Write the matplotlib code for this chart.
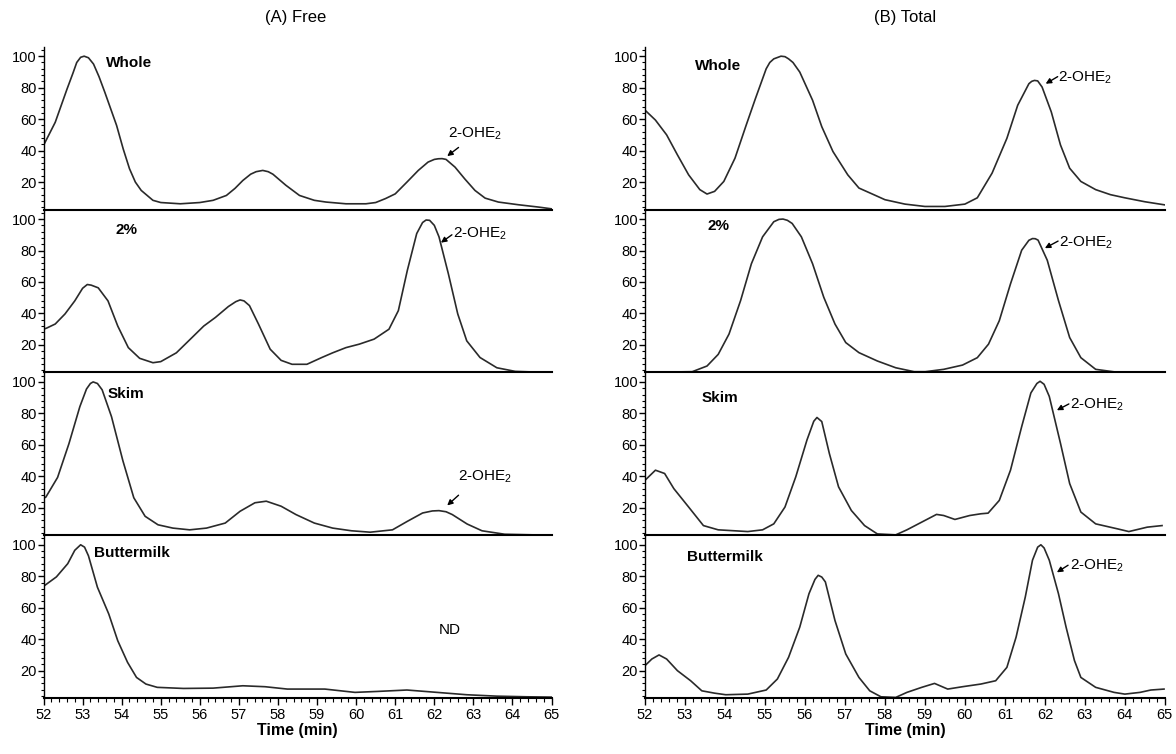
import numpy as np
from matplotlib import pyplot as plt
from matplotlib.ticker import MultipleLocator

plt.rcParams['font.family'] = ['Liberation Sans', 'DejaVu Sans']
plt.rcParams['mathtext.default'] = 'regular'

# ---- (A) Free ----
a_whole_x = [52.0, 52.3, 52.6, 52.75, 52.85, 52.95, 53.04, 53.15, 53.28, 53.42, 53.57, 53.87, 54.04, 54.2,
             54.35, 54.5, 54.8, 55.0, 55.5, 56.0, 56.34, 56.68, 56.9, 57.1, 57.3, 57.44, 57.61, 57.75,
             57.87, 58.2, 58.55, 58.93, 59.23, 59.74, 60.25, 60.5, 60.75, 61.0, 61.3, 61.59, 61.84,
             62.0, 62.1, 62.2, 62.3, 62.53, 62.78, 63.04, 63.3, 63.64, 64.15, 64.67, 65.0]
a_whole_y = [43.3, 58, 79, 89, 96, 99.3, 100, 99, 95, 87, 77, 56, 41, 28.5,
             20, 14.7, 8.4, 7, 6.2, 7, 8.4, 11.5, 16, 21, 25, 26.6, 27.4, 26.6,
             25, 18, 11.5, 8.4, 7.3, 6.2, 6.2, 7, 9.5, 12.5, 20, 27.4, 32.7,
             34.4, 34.8, 34.9, 34.4, 29.5, 22, 14.7, 9.8, 7.3, 5.6, 4.1, 3]

a_2pc_x = [52.0, 52.08, 52.3, 52.55, 52.8, 53.0, 53.12, 53.22, 53.4, 53.65, 53.9, 54.17, 54.46, 54.8, 55.0,
           55.4, 55.8, 56.1, 56.4, 56.73, 56.92, 57.03, 57.13, 57.27, 57.5, 57.8, 58.08, 58.36, 58.74,
           59.12, 59.4, 59.74, 60.08, 60.46, 60.84, 61.08, 61.31, 61.55, 61.7, 61.79, 61.88, 62.0,
           62.12, 62.36, 62.6, 62.83, 63.17, 63.6, 64.07, 64.55, 65.0]
a_2pc_y = [30, 30.7, 33.3, 39.7, 48, 56, 58.4, 58, 56.3, 48, 32, 18.3, 11.5, 8.7, 9.4,
           15, 24.7, 32, 37.5, 44.4, 47.5, 48.6, 48, 45, 33.3, 17.3, 10.2, 7.7, 7.7,
           12, 15, 18.3, 20.5, 23.7, 30, 41.8, 67.4, 90.8, 97.8, 99.4, 99.2, 96,
           88.7, 65.2, 39.7, 22.6, 12, 5.5, 3.2, 2.8, 2.6]

a_skim_x = [52.0, 52.06, 52.36, 52.65, 52.93, 53.1, 53.2, 53.27, 53.38, 53.5, 53.74, 54.03, 54.31, 54.6,
            54.93, 55.31, 55.74, 56.17, 56.65, 57.03, 57.41, 57.7, 58.08, 58.46, 58.93, 59.4, 59.88,
            60.36, 60.93, 61.31, 61.7, 61.95, 62.12, 62.3, 62.46, 62.84, 63.22, 63.8, 64.55, 65.0]
a_skim_y = [26, 26.8, 39.3, 60.7, 84.3, 95.5, 99, 100, 99, 95, 77.9, 50, 26.4, 14.6,
            9.2, 7.1, 6, 7.1, 10.3, 17.8, 23.2, 24.2, 21, 15.7, 10.3, 7.1, 5.4,
            4.5, 6, 11.4, 16.7, 18, 18.2, 17.5, 15.7, 9.7, 5.4, 3.2, 2.8, 2.6]

a_butter_x = [52.0, 52.33, 52.62, 52.8, 52.95, 53.05, 53.15, 53.38, 53.67, 53.9, 54.15, 54.38, 54.62,
              54.91, 55.58, 56.34, 57.1, 57.67, 58.24, 59.2, 59.97, 60.54, 61.3, 62.07, 62.83, 63.6,
              64.36, 65.0]
a_butter_y = [73.6, 79.6, 88, 96.5, 100, 98.5, 93, 73, 56, 39, 25.3, 15.7, 11.5,
              9.4, 8.7, 8.9, 10.4, 9.8, 8.3, 8.3, 6.2, 6.8, 7.7, 6.2, 4.7, 3.8,
              3.4, 3.2]

# ---- (B) Total ----
b_whole_x = [52.0, 52.26, 52.54, 52.81, 53.09, 53.37, 53.55, 53.74, 53.97, 54.25, 54.53, 54.76, 55.03,
             55.12, 55.22, 55.4, 55.5, 55.59, 55.7, 55.87, 56.19, 56.42, 56.7, 57.07, 57.35, 57.72,
             58.0, 58.5, 59.0, 59.5, 60.0, 60.31, 60.68, 61.05, 61.32, 61.6, 61.67, 61.74, 61.82,
             61.93, 62.16, 62.39, 62.62, 62.9, 63.27, 63.64, 64.0, 64.5, 65.0]
b_whole_y = [65.7, 59.4, 50, 37.3, 24.6, 15.2, 12.4, 14.1, 20.4, 35.2, 56.2, 73, 92,
             96, 98.3, 100, 99.7, 98.3, 96, 89.9, 72, 55.2, 39.4, 24.6, 16.2, 12,
             8.8, 6, 4.5, 4.5, 6, 10, 25.7, 47.8, 68.8, 82.5, 84, 84.6, 84.3,
             80.4, 64.6, 43.6, 28.8, 20.4, 15.2, 12, 10, 7.5, 5.5]

b_2pc_x = [52.0, 53.18, 53.55, 53.83, 54.1, 54.39, 54.66, 54.94, 55.22, 55.35, 55.45, 55.56, 55.68, 55.91,
           56.19, 56.47, 56.75, 57.02, 57.35, 57.81, 58.27, 58.73, 59.01, 59.47, 59.94, 60.31, 60.59,
           60.86, 61.14, 61.42, 61.6, 61.69, 61.76, 61.83, 62.06, 62.34, 62.62, 62.9, 63.27, 63.82, 65.0]
b_2pc_y = [2.6, 3, 6.6, 14, 26.9, 48.2, 71.6, 88.7, 98.3, 99.8, 100, 99.2, 97.2, 88.7,
           71.6, 50.3, 33.3, 21.5, 15.1, 9.8, 5.5, 3, 3, 4.5, 7.2, 11.9, 20.5,
           35.4, 58.8, 80.2, 86.5, 87.6, 87.5, 86.6, 73.8, 48.2, 24.7, 11.9, 4.5, 2.6, 2.4]

b_skim_x = [52.0, 52.26, 52.49, 52.72, 53.09, 53.46, 53.83, 54.57, 54.94, 55.22, 55.5, 55.77, 56.05,
            56.22, 56.3, 56.42, 56.61, 56.84, 57.16, 57.49, 57.81, 58.27, 58.55, 58.92, 59.29, 59.47,
            59.75, 60.12, 60.4, 60.58, 60.86, 61.14, 61.42, 61.65, 61.8, 61.88, 61.98, 62.11, 62.39,
            62.62, 62.9, 63.27, 63.82, 64.1, 64.56, 64.93]
b_skim_y = [37.5, 43.9, 41.8, 32.2, 20.5, 8.7, 6, 4.9, 6, 9.8, 20.5, 39.7, 63.1,
            75, 77.4, 74.8, 54.5, 33.3, 18.3, 8.7, 3.4, 2.8, 6, 10.9, 15.8, 15.1,
            12.6, 15.1, 16.2, 16.6, 24.7, 43.9, 71.6, 93, 99, 100.4, 98.5, 90.8, 61,
            35.4, 17.3, 9.8, 6.6, 4.9, 7.7, 8.7]

b_butter_x = [52.0, 52.17, 52.35, 52.54, 52.81, 53.14, 53.42, 53.74, 54.02, 54.57, 55.03, 55.31, 55.59,
              55.87, 56.1, 56.25, 56.33, 56.42, 56.51, 56.75, 57.02, 57.35, 57.62, 57.9, 58.27, 58.55,
              58.92, 59.24, 59.57, 59.94, 60.4, 60.77, 61.05, 61.28, 61.51, 61.69, 61.82, 61.9,
              61.98, 62.11, 62.34, 62.53, 62.74, 62.9, 63.27, 63.73, 64.0, 64.38, 64.65, 64.98]
b_butter_y = [23.2, 27.4, 30, 27.4, 20, 13.6, 7.2, 5.7, 4.7, 5.1, 7.7, 14.7, 28.5,
              47.7, 68.9, 78, 80.6, 79.5, 76.4, 51.9, 30.6, 15.7, 7.2, 3.4, 3, 6.2,
              9.4, 11.9, 8.3, 9.8, 11.5, 13.6, 22.1, 41.3, 66.8, 90.2, 98.5, 100,
              98, 90.2, 68.9, 47.7, 26.4, 15.7, 9.4, 6.2, 5.1, 6.2, 7.7, 8.3]

free_x = [a_whole_x, a_2pc_x, a_skim_x, a_butter_x]
free_y = [a_whole_y, a_2pc_y, a_skim_y, a_butter_y]
total_x = [b_whole_x, b_2pc_x, b_skim_x, b_butter_x]
total_y = [b_whole_y, b_2pc_y, b_skim_y, b_butter_y]
samples = ['Whole', '2%', 'Skim', 'Buttermilk']
columns = ['(A) Free', '(B) Total']

# label positions (x, y) per panel
free_lab = [(53.6, 95.5), (53.85, 93), (53.65, 92.5), (53.3, 95)]
total_lab = [(53.25, 94), (53.55, 95.5), (53.42, 89.5), (53.05, 92.5)]
# 2-OHE2 annotations: (text x, text y, tail x, tail y, tip x, tip y, ha)
free_ann = [(63.05, 50.5, 62.62, 42, 62.33, 36.5, 'center'),
            (62.48, 90.5, 62.45, 90, 62.17, 85, 'left'),
            (63.3, 40, 62.62, 28, 62.33, 21.5, 'center'),
            None]
total_ann = [(62.34, 86.5, 62.32, 87, 62.02, 82.5, 'left'),
             (62.36, 85, 62.33, 86, 62.0, 81.5, 'left'),
             (62.62, 85.5, 62.6, 86, 62.3, 82, 'left'),
             (62.62, 86.5, 62.58, 87, 62.3, 82.5, 'left')]

W, H = 1176, 754
fig = plt.figure(figsize=(W / 100, H / 100), dpi=100)
lefts = [0.037, 0.5485]
widths = [0.432, 0.442]
top, bottom = 0.938, 0.074
ph = (top - bottom) / 4

for c in range(2):
    xs = free_x if c == 0 else total_x
    ys = free_y if c == 0 else total_y
    labs = free_lab if c == 0 else total_lab
    anns = free_ann if c == 0 else total_ann
    for r in range(4):
        ax = fig.add_axes([lefts[c], top - (r + 1) * ph, widths[c], ph])
        ax.plot(xs[r], ys[r], color='#2a2a2a', lw=1.2, solid_joinstyle='round')
        ax.set_xlim(52, 65)
        ax.set_ylim(2.5, 106)
        ax.spines['top'].set_visible(False)
        ax.spines['right'].set_visible(False)
        ax.spines['left'].set_linewidth(1.0)
        ax.spines['bottom'].set_linewidth(1.5)
        ax.set_yticks([20, 40, 60, 80, 100])
        ax.yaxis.set_minor_locator(MultipleLocator(4))
        ax.tick_params(axis='y', which='major', direction='out', length=4, width=1, labelsize=10.5, pad=1)
        ax.tick_params(axis='y', which='minor', direction='out', length=2.5, width=0.8)
        ax.set_xticks(range(52, 66))
        ax.xaxis.set_minor_locator(MultipleLocator(0.2))
        if r < 3:
            ax.tick_params(axis='x', which='both', bottom=False, labelbottom=False)
        else:
            ax.tick_params(axis='x', which='major', direction='out', length=5, width=1, labelsize=10.5, pad=2)
            ax.tick_params(axis='x', which='minor', direction='out', length=3, width=0.8)
            ax.set_xlabel('Time (min)', fontsize=11.5, fontweight='bold', labelpad=1)
        ax.patch.set_alpha(0)
        lx, ly = labs[r]
        ax.text(lx, ly, samples[r], fontsize=11, fontweight='bold', ha='left', va='center')
        a = anns[r]
        if a is not None:
            tx, ty, sx, sy, hx, hy, ha = a
            ax.annotate('', xy=(hx, hy), xytext=(sx, sy),
                        arrowprops=dict(arrowstyle='-|>', color='black', lw=1.0,
                                        mutation_scale=8, shrinkA=0, shrinkB=0))
            ax.text(tx, ty, '2-OHE$_{2}$', fontsize=11, ha=ha, va='center')
        elif c == 0 and r == 3:
            ax.text(62.4, 46, 'ND', fontsize=11, ha='center', va='center')

fig.text(0.251, 0.977, columns[0], fontsize=12, ha='center', va='center')
fig.text(0.77, 0.977, columns[1], fontsize=12, ha='center', va='center')

fig.savefig('out.png', dpi=100)
